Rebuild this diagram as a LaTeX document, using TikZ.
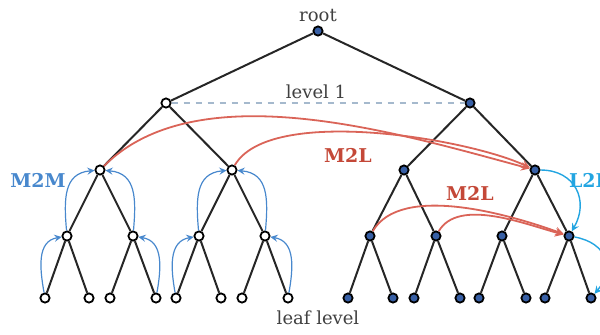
\documentclass[tikz,border=0pt]{standalone}
\usepackage{fontspec}
\setmainfont{DejaVu Serif}
\usetikzlibrary{shapes,arrows,positioning,calc}
\definecolor{mtolred}{RGB}{218,100,88}
\definecolor{mtoltext}{RGB}{196,72,56}
\definecolor{mtomblue}{RGB}{72,136,205}
\definecolor{ltolblue}{RGB}{35,165,225}
\definecolor{cellblue}{RGB}{55,95,165}
\definecolor{dashgray}{RGB}{165,185,205}

\begin{document}
\begin{tikzpicture}[x=0.5pt, y=-0.5pt, font=\fontsize{9}{10}\selectfont,
    onode/.style={draw, circle, fill=white, line width=0.9pt, inner sep=0pt, minimum size=4.6pt},
    fnode/.style={onode, fill=cellblue},
    edge/.style={line width=1pt, black!85},
    mtol/.style={-stealth, draw=mtolred, line width=0.9pt},
    mtom/.style={-stealth, draw=mtomblue, line width=0.6pt},
    ltol/.style={-stealth, draw=ltolblue, line width=0.7pt}]
    \useasboundingbox (0,0) rectangle (600,334);

    % tree nodes
    \node (root) [fnode] at (318,31) {};
    \node (left) [onode] at (166,103) {};
    \node (right) [fnode] at (470,103) {};

    \node (na) [onode] at (100,170) {};
    \node (nb) [onode] at (232,170) {};
    \node (nc) [fnode] at (404,170) {};
    \node (nd) [fnode] at (535,170) {};

    \node (ma) [onode] at (67,236) {};
    \node (mb) [onode] at (133,236) {};
    \node (mc) [onode] at (199,236) {};
    \node (md) [onode] at (265,236) {};
    \node (me) [fnode] at (370,236) {};
    \node (mf) [fnode] at (436,236) {};
    \node (mg) [fnode] at (502,236) {};
    \node (mh) [fnode] at (569,236) {};

    \node (la) [onode] at (45,298) {};
    \node (lb) [onode] at (89,298) {};
    \node (lc) [onode] at (110,298) {};
    \node (ld) [onode] at (156,298) {};
    \node (le) [onode] at (176,298) {};
    \node (lf) [onode] at (221,298) {};
    \node (lg) [onode] at (242,298) {};
    \node (lh) [onode] at (288,298) {};
    \node (li) [fnode] at (348,298) {};
    \node (lj) [fnode] at (393,298) {};
    \node (lk) [fnode] at (414,298) {};
    \node (ll) [fnode] at (460,298) {};
    \node (lm) [fnode] at (479,298) {};
    \node (ln) [fnode] at (526,298) {};
    \node (lo) [fnode] at (545,298) {};
    \node (lp) [fnode] at (591,298) {};

    % labels
    \node (rootlbl) [text=black!75] at (318,15) {root};
    \node (lvllbl) [text=black!75] at (316,92) {level 1};
    \node (leaflbl) [text=black!75] at (318,318) {leaf level};
    \node (mtolup) [text=mtoltext, font=\fontsize{9.5}{10}\selectfont\bfseries] at (348,155) {M2L};
    \node (mtollow) [text=mtoltext, font=\fontsize{9.5}{10}\selectfont\bfseries] at (470,193) {M2L};
    \node (mtomlbl) [text=mtomblue, font=\fontsize{9.5}{10}\selectfont\bfseries] at (38,180) {M2M};
    \node (ltollbl) [text=ltolblue, font=\fontsize{9.5}{10}\selectfont\bfseries, anchor=west] at (562,180) {L2L};

    % level 1 guide
    \draw [dashgray, dashed, line width=0.6pt] (left) -- (right);

    % tree edges
    \draw [edge] (root) -- (left);
    \draw [edge] (root) -- (right);
    \draw [edge] (left) -- (na);
    \draw [edge] (left) -- (nb);
    \draw [edge] (right) -- (nc);
    \draw [edge] (right) -- (nd);
    \draw [edge] (na) -- (ma);
    \draw [edge] (na) -- (mb);
    \draw [edge] (nb) -- (mc);
    \draw [edge] (nb) -- (md);
    \draw [edge] (nc) -- (me);
    \draw [edge] (nc) -- (mf);
    \draw [edge] (nd) -- (mg);
    \draw [edge] (nd) -- (mh);
    \draw [edge] (ma) -- (la);
    \draw [edge] (ma) -- (lb);
    \draw [edge] (mb) -- (lc);
    \draw [edge] (mb) -- (ld);
    \draw [edge] (mc) -- (le);
    \draw [edge] (mc) -- (lf);
    \draw [edge] (md) -- (lg);
    \draw [edge] (md) -- (lh);
    \draw [edge] (me) -- (li);
    \draw [edge] (me) -- (lj);
    \draw [edge] (mf) -- (lk);
    \draw [edge] (mf) -- (ll);
    \draw [edge] (mg) -- (lm);
    \draw [edge] (mg) -- (ln);
    \draw [edge] (mh) -- (lo);
    \draw [edge] (mh) -- (lp);

    % M2L
    \draw [mtol] (na) to[out=45, in=165, looseness=0.8] (nd);
    \draw [mtol] (nb) to[out=60, in=155, looseness=0.6] (nd);
    \draw [mtol] (me) to[out=60, in=160, looseness=0.75] (mh);
    \draw [mtol] (mf) to[out=60, in=165, looseness=0.8] (mh);

    % M2M
    \draw [mtom] (ma) to[out=95, in=185, looseness=1.2] (na);
    \draw [mtom] (mb) to[out=85, in=-5, looseness=1.2] (na);
    \draw [mtom] (mc) to[out=95, in=185, looseness=1.2] (nb);
    \draw [mtom] (md) to[out=85, in=-5, looseness=1.2] (nb);
    \draw [mtom] (la) to[out=100, in=190, looseness=1.1] (ma);
    \draw [mtom] (ld) to[out=80, in=-10, looseness=1.1] (mb);
    \draw [mtom] (le) to[out=100, in=190, looseness=1.1] (mc);
    \draw [mtom] (lh) to[out=80, in=-10, looseness=1.1] (md);

    % L2L
    \draw [ltol] (nd) to[out=0, in=60, looseness=1.3] (mh);
    \draw [ltol] (mh) to[out=-10, in=50, looseness=1.4] (lp);
\end{tikzpicture}
\end{document}
